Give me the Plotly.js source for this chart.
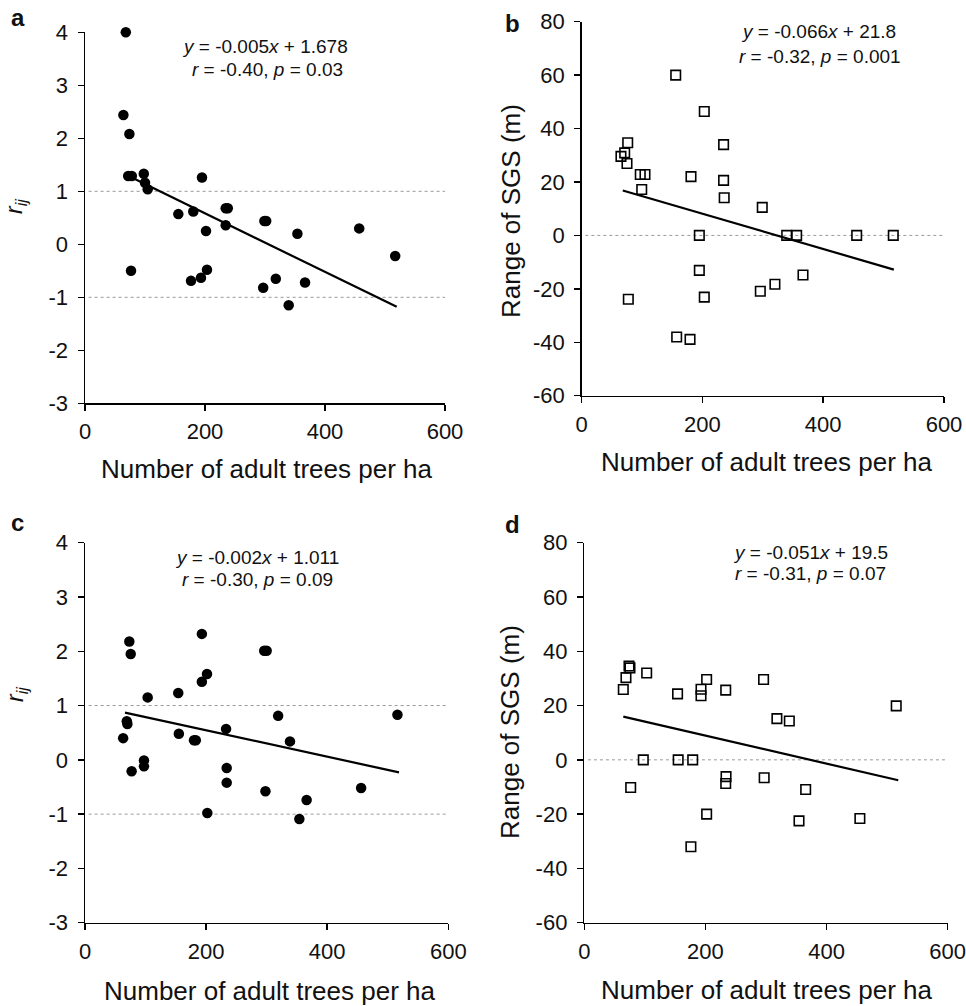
<!DOCTYPE html>
<html>
<head>
<meta charset="utf-8">
<script src="https://cdn.plot.ly/plotly-3.0.1.min.js"></script>
<style>html,body{margin:0;padding:0;background:#fff;}#chart{width:966px;height:1006px;}</style>
</head>
<body>
<div id="chart"></div>
<script>
// ---- data ----
const xTicks = [0, 200, 400, 600];
const xTickText = ['0', '200', '400', '600'];
const rTicks = [-3, -2, -1, 0, 1, 2, 3, 4];
const rTickText = ['-3', '-2', '-1', '0', '1', '2', '3', '4'];
const sgsTicks = [-60, -40, -20, 0, 20, 40, 60, 80];
const sgsTickText = ['-60', '-40', '-20', '0', '20', '40', '60', '80'];

// panel a: r_ij vs adult tree density
const aX = [68, 64, 74, 72, 78, 98, 100, 104.5, 195, 155.5, 180.5, 201.7, 234.5, 238, 234.5, 299, 302, 354, 457, 517, 76.7, 176.7, 193.3, 203.3, 297, 318, 366.7, 339.5];
const aY = [4.0, 2.44, 2.08, 1.29, 1.29, 1.33, 1.16, 1.04, 1.26, 0.57, 0.62, 0.25, 0.68, 0.68, 0.36, 0.44, 0.44, 0.20, 0.30, -0.22, -0.50, -0.69, -0.63, -0.48, -0.82, -0.65, -0.72, -1.15];
const fitAx = [83, 519.5];
const fitAy = [1.23, -1.18];
const refA = [1, -1];

// panel b: range of SGS vs density
const bX = [155.7, 203, 76.2, 235, 65, 71.2, 75, 97, 104.8, 181, 235, 99.4, 236, 299, 194.8, 339.5, 356, 455.4, 516, 194.8, 203, 77.2, 295.8, 320, 366.5, 157.3, 179.4];
const bY = [60, 46.4, 34.7, 34, 29.6, 30.9, 26.9, 22.8, 22.8, 22, 20.6, 17.2, 14.1, 10.5, 0, 0, 0, 0, 0, -13.1, -23.1, -23.9, -20.9, -18.3, -14.8, -38, -38.9];
const fitBx = [68, 517];
const fitBy = [16.8, -12.8];
const refB = [0];

// panel c
const cX = [73.2, 75.5, 193, 296, 300, 201.5, 193, 103.5, 154, 319, 516, 69, 70, 63, 155, 180, 183, 233, 338.5, 97.4, 97.4, 77, 234, 234, 298, 456, 366, 202, 354];
const cY = [2.18, 1.95, 2.32, 2.01, 2.01, 1.58, 1.44, 1.15, 1.23, 0.81, 0.83, 0.71, 0.66, 0.40, 0.48, 0.36, 0.36, 0.57, 0.34, -0.01, -0.12, -0.21, -0.15, -0.42, -0.58, -0.52, -0.74, -0.98, -1.09];
const fitCx = [66, 518.6];
const fitCy = [0.87, -0.23];
const refC = [1, -1];

// panel d
const dX = [73.8, 75.4, 68.8, 64.4, 103, 154, 192.7, 192.7, 202, 233.5, 296, 515, 318, 338.5, 97.4, 155, 179, 76.6, 234, 233.5, 297, 365.5, 202, 354.5, 455, 176];
const dY = [34.6, 33.9, 30.3, 25.9, 32, 24.3, 26, 23.6, 29.6, 25.7, 29.6, 19.9, 15.2, 14.3, 0, 0, 0, -10.2, -6.2, -8.7, -6.6, -10.9, -20, -22.5, -21.6, -32];
const fitDx = [64.4, 518.4];
const fitDy = [15.9, -7.5];
const refD = [0];

const eqText = {
  a: ['<i>y</i> = -0.005<i>x</i> + 1.678', '<i>r</i> = -0.40, <i>p</i> = 0.03'],
  b: ['<i>y</i> = -0.066<i>x</i> + 21.8', '<i>r</i> = -0.32, <i>p</i> = 0.001'],
  c: ['<i>y</i> = -0.002<i>x</i> + 1.011', '<i>r</i> = -0.30, <i>p</i> = 0.09'],
  d: ['<i>y</i> = -0.051<i>x</i> + 19.5', '<i>r</i> = -0.31, <i>p</i> = 0.07']
};
const xTitle = 'Number of adult trees per ha';
const rTitle = '<i>r<sub>ij</sub></i>';
const sgsTitle = 'Range of SGS (m)';

// ---- drawing ----
const W = 966, H = 1006;
const FONT = 'Liberation Sans, Arial, sans-serif';
const px = v => v / W;
const py = v => 1 - v / H;

function dots(x, y, xa, ya) {
  return {x: x, y: y, xaxis: xa, yaxis: ya, type: 'scatter', mode: 'markers', cliponaxis: false,
    marker: {symbol: 'circle', size: 10.5, color: '#000', line: {width: 0}}, hoverinfo: 'skip'};
}
function squares(x, y, xa, ya) {
  return {x: x, y: y, xaxis: xa, yaxis: ya, type: 'scatter', mode: 'markers', cliponaxis: false,
    marker: {symbol: 'square-open', size: 9.5, color: '#000', line: {width: 1.6}}, hoverinfo: 'skip'};
}
function fit(x, y, xa, ya) {
  return {x: x, y: y, xaxis: xa, yaxis: ya, type: 'scatter', mode: 'lines', cliponaxis: false,
    line: {color: '#000', width: 2.2}, hoverinfo: 'skip'};
}

const traces = [
  dots(aX, aY, 'x', 'y'), fit(fitAx, fitAy, 'x', 'y'),
  squares(bX, bY, 'x2', 'y2'), fit(fitBx, fitBy, 'x2', 'y2'),
  dots(cX, cY, 'x3', 'y3'), fit(fitCx, fitCy, 'x3', 'y3'),
  squares(dX, dY, 'x4', 'y4'), fit(fitDx, fitDy, 'x4', 'y4')
];

function xax(dom, anchor) {
  return {domain: dom, anchor: anchor, range: [0, 600], tickmode: 'array', tickvals: xTicks, ticktext: xTickText,
    showline: true, linecolor: '#000', linewidth: 1.5, ticks: 'outside', ticklen: 6, tickwidth: 1.5,
    tickcolor: '#000', showgrid: false, zeroline: false, ticklabelstandoff: 2, ticklabeloverflow: 'allow',
    tickfont: {family: FONT, size: 22, color: '#111'}};
}
function yax(dom, anchor, rng, tv, tt) {
  return {domain: dom, anchor: anchor, range: rng, tickmode: 'array', tickvals: tv, ticktext: tt,
    showline: true, linecolor: '#000', linewidth: 1.5, ticks: 'outside', ticklen: 6, tickwidth: 1.5,
    tickcolor: '#000', showgrid: false, zeroline: false, ticklabelstandoff: 5, ticklabeloverflow: 'allow',
    tickfont: {family: FONT, size: 22, color: '#111'}};
}

const shapes = [];
function refLines(vals, xa, ya) {
  vals.forEach(v => shapes.push({type: 'line', xref: xa + ' domain', yref: ya, x0: 0.01, x1: 1, y0: v, y1: v,
    line: {color: '#999', width: 1, dash: 'dot'}, layer: 'below'}));
}
refLines(refA, 'x', 'y');
refLines(refB, 'x2', 'y2');
refLines(refC, 'x3', 'y3');
refLines(refD, 'x4', 'y4');

const ann = [];
function note(text, x, y, size, opts) {
  ann.push(Object.assign({text: text, xref: 'paper', yref: 'paper', x: px(x), y: py(y),
    xanchor: 'center', yanchor: 'middle', showarrow: false,
    font: {family: FONT, size: size, color: '#111'}}, opts || {}));
}
// equations
note(eqText.a[0], 265, 47, 19); note(eqText.a[1], 267, 69, 19);
note(eqText.b[0], 818, 32, 19); note(eqText.b[1], 820, 56, 19);
note(eqText.c[0], 257, 557, 19); note(eqText.c[1], 257, 579, 19);
note(eqText.d[0], 810, 552, 19); note(eqText.d[1], 810, 573, 19);
// x titles
note(xTitle, 266, 469, 26); note(xTitle, 766, 462, 26);
note(xTitle, 269, 991, 26); note(xTitle, 766, 990, 26);
// y titles
note(rTitle, 15, 207, 23, {textangle: -90});
note(rTitle, 16, 695, 23, {textangle: -90});
note(sgsTitle, 511, 211, 26, {textangle: -90});
note(sgsTitle, 510, 732, 26, {textangle: -90});
// panel letters
note('<b>a</b>', 17.5, 17, 24); note('<b>b</b>', 512.5, 23, 24);
note('<b>c</b>', 17.5, 522, 24); note('<b>d</b>', 512.5, 524, 24);

const layout = {
  width: W, height: H, margin: {l: 0, r: 0, t: 0, b: 0},
  paper_bgcolor: '#fff', plot_bgcolor: 'rgba(0,0,0,0)', showlegend: false,
  xaxis: xax([px(85), px(445)], 'y'),
  yaxis: yax([py(403.3), py(32.3)], 'x', [-3, 4], rTicks, rTickText),
  xaxis2: xax([px(581.7), px(944)], 'y2'),
  yaxis2: yax([py(395.7), py(21.7)], 'x2', [-60, 80], sgsTicks, sgsTickText),
  xaxis3: xax([px(85), px(448.3)], 'y3'),
  yaxis3: yax([py(922.7), py(542.7)], 'x3', [-3, 4], rTicks, rTickText),
  xaxis4: xax([px(584.3), px(947.7)], 'y4'),
  yaxis4: yax([py(922.7), py(542.7)], 'x4', [-60, 80], sgsTicks, sgsTickText),
  shapes: shapes, annotations: ann
};

Plotly.newPlot('chart', traces, layout, {staticPlot: true, displayModeBar: false});
</script>
</body>
</html>
